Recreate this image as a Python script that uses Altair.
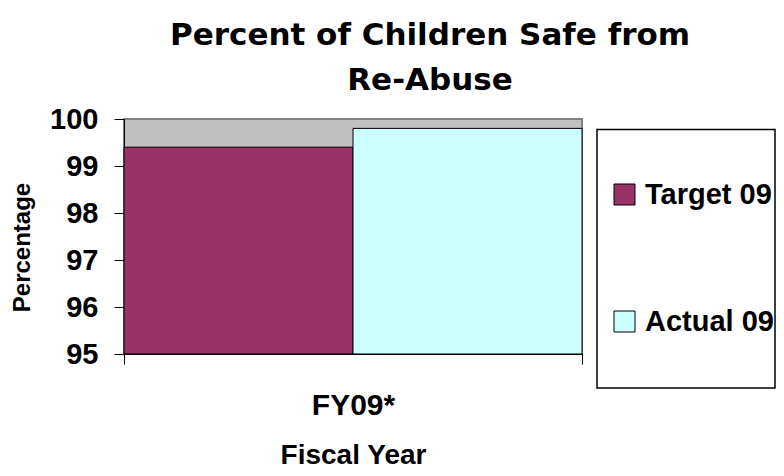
import altair as alt
import pandas as pd

years = ["FY09*"]
series = ["Target 09", "Actual 09"]
values = [99.4, 99.8]
colors = ["#993366", "#CCFFFF"]
y_ticks = [95, 96, 97, 98, 99, 100]

df = pd.DataFrame({"year": years * len(series), "series": series, "value": values})

W, H = 458, 235

bars = alt.Chart(df).mark_bar(stroke="black", strokeWidth=1).encode(
    x=alt.X(
        "year:N",
        scale=alt.Scale(paddingInner=0, paddingOuter=0),
        axis=alt.Axis(
            title="Fiscal Year", labelAngle=0, tickBand="extent", grid=False,
            labelFontSize=30, labelFontWeight="bold", labelColor="black", labelPadding=26,
            tickSize=10, tickColor="black", domainColor="black",
            titleFontSize=28, titleFontWeight="bold", titleColor="black",
            titleY=109, titleBaseline="alphabetic",
        ),
    ),
    xOffset=alt.XOffset("series:N", sort=series, scale=alt.Scale(paddingInner=0, paddingOuter=0)),
    y=alt.Y(
        "value:Q",
        scale=alt.Scale(domain=[95, 100], zero=False, nice=False),
        axis=alt.Axis(
            values=y_ticks, title="Percentage", grid=False,
            labelFontSize=29, labelFontWeight="bold", labelColor="black", labelPadding=16,
            tickSize=10, tickColor="black", domainColor="black",
            titleFontSize=24, titleFontWeight="bold", titleColor="black",
            titleX=-102, titleY=128, titleAngle=270, titleBaseline="middle", titleAlign="center",
        ),
    ),
    y2=alt.datum(95),
    color=alt.Color(
        "series:N", sort=series,
        scale=alt.Scale(domain=series, range=colors),
        legend=alt.Legend(
            orient="none", legendX=486, legendY=61, title=None, padding=0,
            symbolType="square", symbolSize=441, symbolStrokeColor="black", symbolStrokeWidth=1,
            symbolOpacity=1,
            labelFontSize=29, labelFontWeight="bold", labelColor="black", labelOffset=6,
            rowPadding=97,
        ),
    ),
)

frame = alt.Chart(pd.DataFrame({"k": [0]})).mark_rect(
    fill="white", stroke="black", strokeWidth=1.5
).encode(x=alt.value(473), x2=alt.value(651), y=alt.value(10.5), y2=alt.value(269))

chart = alt.layer(bars, frame).properties(
    width=W, height=H,
    title=alt.TitleParams(
        text=["Percent of Children Safe from", "Re-Abuse"],
        font="DejaVu Sans", fontSize=31, fontWeight="bold", color="black",
        lineHeight=45, anchor="middle", dx=77, offset=8,
    ),
    padding={"left": 116, "top": 111, "right": 194, "bottom": 116},
    autosize=alt.AutoSizeParams(type="none"),
).configure(font="Liberation Sans").configure_view(
    fill="#C0C0C0", stroke="#808080", strokeWidth=2
)

chart.save("out.html", embed_options={"renderer": "svg", "actions": False})
